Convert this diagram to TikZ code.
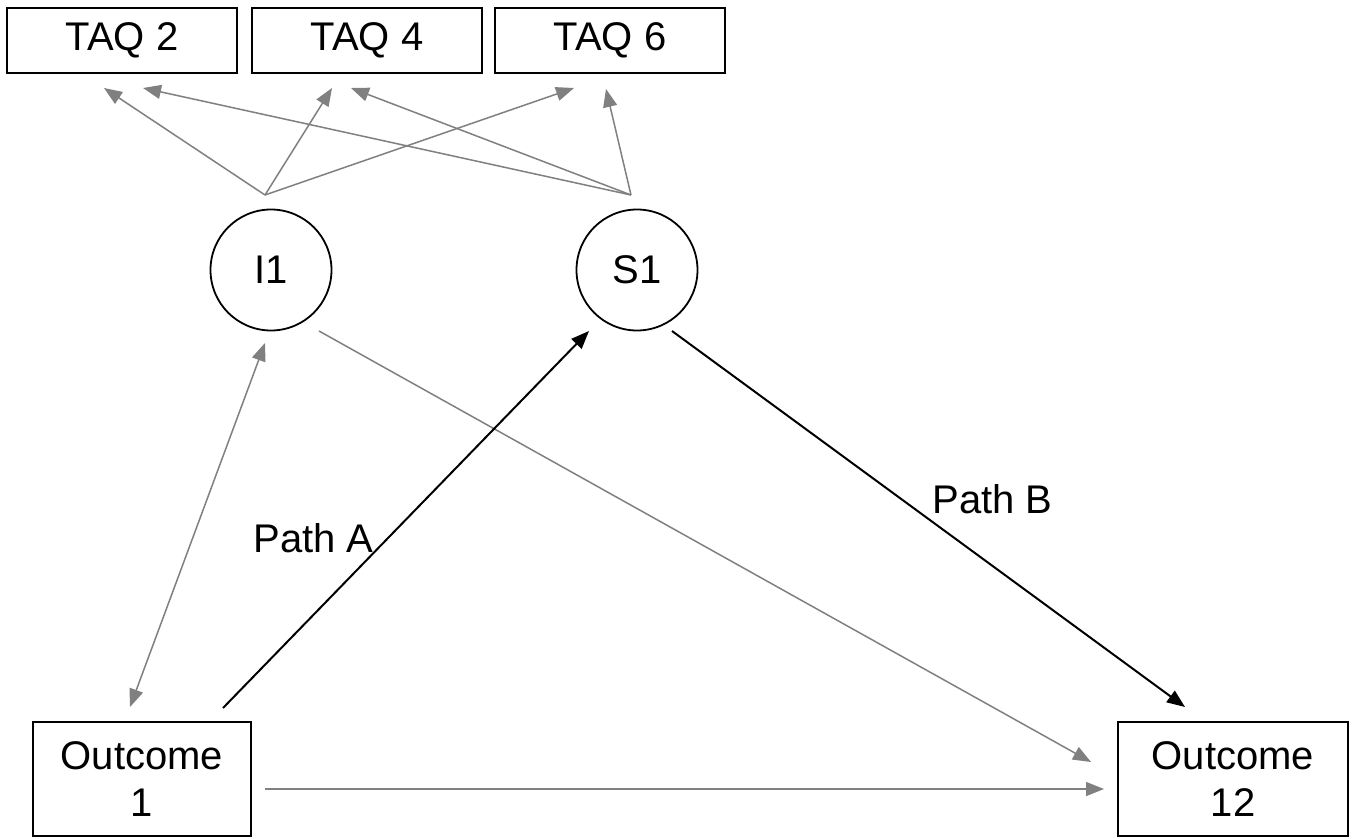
\documentclass[tikz,border=0pt]{standalone}
\usepackage{fontspec}
\setmainfont{Liberation Sans}
\usetikzlibrary{arrows.meta}
\definecolor{lgray}{RGB}{128,128,128}
\begin{document}
\begin{tikzpicture}[x=1pt,y=-1pt,
  box/.style={draw, line width=2pt, minimum width=230pt, minimum height=65pt, inner sep=0pt, font=\fontsize{40}{47}\selectfont, align=center},
  latent/.style={circle, draw, line width=1.8pt, minimum size=121pt, inner sep=0pt, font=\fontsize{40}{47}\selectfont},
  garr/.style={line width=1.5pt, draw=lgray, -{Triangle[length=18pt,width=14pt]}},
  gdbl/.style={line width=1.5pt, draw=lgray, {Triangle[length=18pt,width=14pt]}-{Triangle[length=18pt,width=14pt]}},
  barr/.style={line width=2pt, draw=black, -{Triangle[length=18pt,width=14pt]}},
  lbl/.style={font=\fontsize{40}{47}\selectfont, inner sep=0pt, anchor=base}
]
\useasboundingbox (0,0) rectangle (1357,838);
\fill[white] (0,0) rectangle (1357,838);
% nodes
\node[box] (taq2) at (122,40.5) {TAQ 2};
\node[box] (taq4) at (367,40.5) {TAQ 4};
\node[box] (taq6) at (610,40.5) {TAQ 6};
\node[latent] (i1) at (271,270) {I1};
\node[latent] (s1) at (637,270) {S1};
\node[box, minimum width=218pt, minimum height=114pt] (out1) at (142,779) {Outcome\\1};
\node[box, minimum width=230pt, minimum height=114pt] (out12) at (1233,779) {Outcome\\12};
% connector end points
\coordinate (i1src) at (265,195);
\coordinate (s1src) at (631,195);
\coordinate (t2a) at (104,88);
\coordinate (t2b) at (143,88);
\coordinate (t4a) at (332,88);
\coordinate (t4b) at (351,88);
\coordinate (t6a) at (574,88);
\coordinate (t6b) at (606,89);
\coordinate (i1bot) at (265,343);
\coordinate (o1top) at (130,707);
\coordinate (i1br) at (319,331);
\coordinate (o12diag) at (1091,762);
\coordinate (o1right) at (265,789);
\coordinate (o12left) at (1104,789);
\coordinate (o1pa) at (223,708);
\coordinate (s1pa) at (589,331);
\coordinate (s1pb) at (672,331);
\coordinate (o12pb) at (1185,707);
% loadings
\draw[garr] (i1src) -- (t2a);
\draw[garr] (i1src) -- (t4a);
\draw[garr] (i1src) -- (t6a);
\draw[garr] (s1src) -- (t2b);
\draw[garr] (s1src) -- (t4b);
\draw[garr] (s1src) -- (t6b);
% structural paths
\draw[gdbl] (o1top) -- (i1bot);
\draw[garr] (i1br) -- (o12diag);
\draw[garr] (o1right) -- (o12left);
\draw[barr] (o1pa) -- (s1pa);
\draw[barr] (s1pb) -- (o12pb);
% labels
\node[lbl] (pa) at (313.5,552) {Path A};
\node[lbl] (pb) at (992.5,513) {Path B};
\end{tikzpicture}
\end{document}
